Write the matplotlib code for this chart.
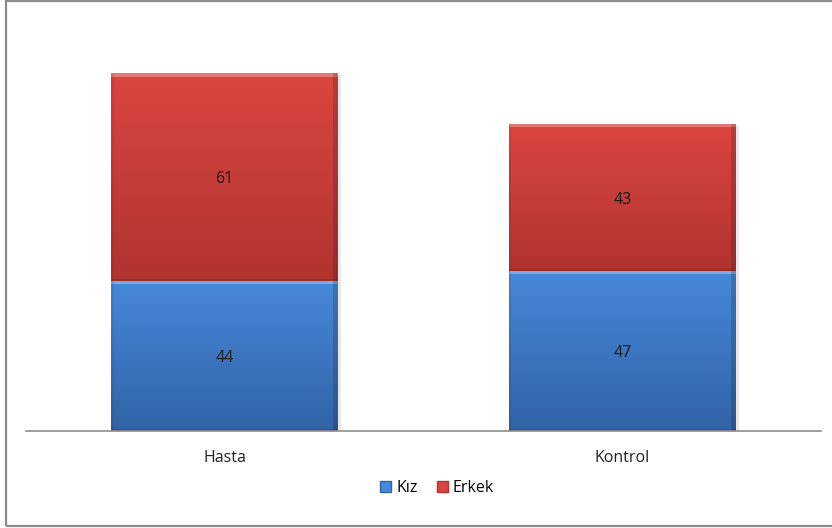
import numpy as np
import matplotlib.pyplot as plt
from matplotlib.patches import Rectangle
from matplotlib.colors import LinearSegmentedColormap

plt.rcParams['font.family'] = ['Open Sans', 'DejaVu Sans']

groups = ['Hasta', 'Kontrol']
kiz = [44, 47]
erkek = [61, 43]
series_names = ['Kız', 'Erkek']

# top / bottom shades for the gradient fill of each series
blue = ('#4689da', '#3263a6')
red = ('#db4541', '#b0342f')


def gradient_fill(ax, bar, colors, z=3):
    x, y = bar.get_x(), bar.get_y()
    w, h = bar.get_width(), bar.get_height()
    cmap = LinearSegmentedColormap.from_list('g', [colors[1], colors[0]])
    grad = np.linspace(0, 1, 256).reshape(-1, 1)
    img = ax.imshow(grad, extent=(x, x + w, y, y + h), origin='lower',
                    cmap=cmap, aspect='auto', zorder=z)
    img.set_clip_path(bar)
    # bevel: light strip on top, darker strips on sides and bottom
    bev = h * 0.012 + 0.35
    ax.add_patch(Rectangle((x, y + h - bev), w, bev, color='white',
                           alpha=0.28, lw=0, zorder=z + 1))
    ax.add_patch(Rectangle((x + w - 0.012, y), 0.012, h, color='black',
                           alpha=0.15, lw=0, zorder=z + 1))
    ax.add_patch(Rectangle((x, y), 0.006, h, color='black',
                           alpha=0.08, lw=0, zorder=z + 1))
    ax.add_patch(Rectangle((x, y), w, bev * 0.6, color='black',
                           alpha=0.12, lw=0, zorder=z + 1))


fig = plt.figure(figsize=(8.32, 5.28), dpi=100)
fig.patches.append(Rectangle((6 / 832, 2 / 528), 1.0, 525 / 528,
                             transform=fig.transFigure, fill=False,
                             edgecolor='#8c8c8c', lw=1.6))
ax = fig.add_axes([26 / 832, 97 / 528, 795 / 832, 409 / 528])

x = np.arange(len(groups))
width = 0.57
b1 = ax.bar(x, kiz, width, color='none', zorder=2)
b2 = ax.bar(x, erkek, width, bottom=kiz, color='none', zorder=2)

for bars, cols in ((b1, blue), (b2, red)):
    for bar in bars:
        gradient_fill(ax, bar, cols)

# soft shadow to the right of each stack
for i in range(len(groups)):
    ax.add_patch(Rectangle((x[i] - width / 2 + 0.008, -0.6), width, kiz[i] + erkek[i],
                           color='#000000', alpha=0.09, lw=0, zorder=1))

for bars, vals in ((b1, kiz), (b2, erkek)):
    for bar, v in zip(bars, vals):
        ax.text(bar.get_x() + bar.get_width() / 2, bar.get_y() + bar.get_height() / 2,
                str(v), ha='center', va='center_baseline', fontsize=11.5,
                color='#1a1a1a', zorder=6)

ax.set_xlim(-0.5, 1.5)
ax.set_ylim(0, 120)
ax.set_xticks(x)
ax.set_xticklabels(groups, fontsize=11.5, color='#222222')
ax.tick_params(axis='x', length=0, pad=14)
ax.set_yticks([])
for s in ('top', 'right', 'left'):
    ax.spines[s].set_visible(False)
ax.spines['bottom'].set_color('#8c8c8c')
ax.spines['bottom'].set_linewidth(1.2)
ax.spines['bottom'].set_zorder(7)

handles = [Rectangle((0, 0), 1, 1, facecolor=blue[0], edgecolor=blue[1]),
           Rectangle((0, 0), 1, 1, facecolor=red[0], edgecolor=red[1])]
fig.legend(handles, series_names, loc='center', bbox_to_anchor=(437 / 832, 1 - 488 / 528),
           ncol=2, frameon=False, fontsize=11.5, handlelength=0.7, handleheight=0.7,
           handletextpad=0.3, columnspacing=1.2)

fig.savefig('out.png', dpi=100)
